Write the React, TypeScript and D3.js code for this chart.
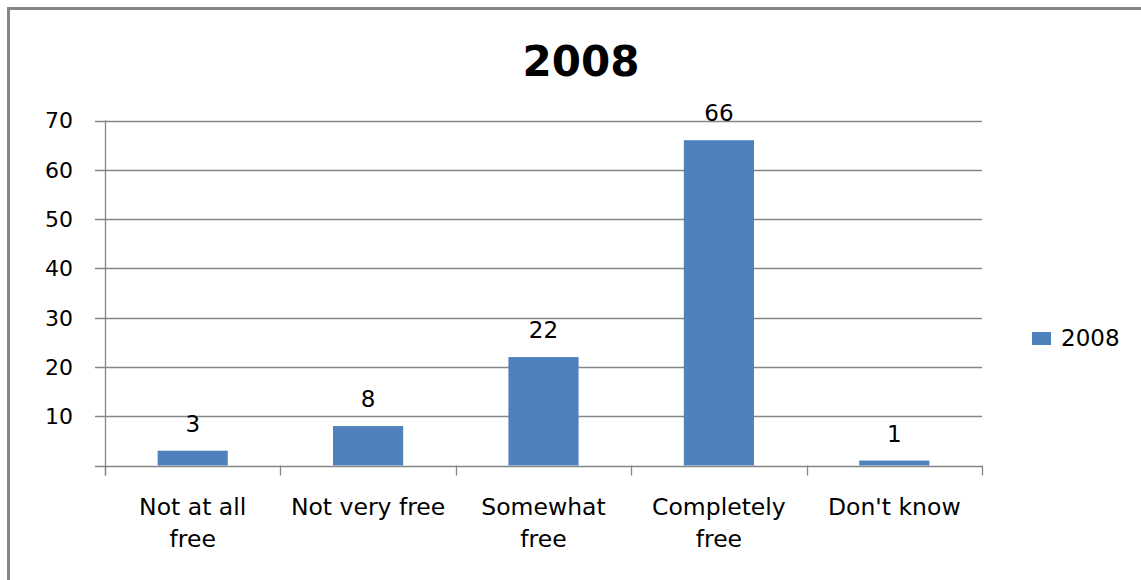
import React, { useRef, useEffect } from 'react';
import * as d3 from 'd3';

const categories = ['Not at all free', 'Not very free', 'Somewhat free', 'Completely free', "Don't know"];
const categoryLines = [['Not at all', 'free'], ['Not very free'], ['Somewhat', 'free'], ['Completely', 'free'], ["Don't know"]];
const values2008 = [3, 8, 22, 66, 1];
const yTicks = [10, 20, 30, 40, 50, 60, 70];
const seriesName = '2008';

export default function App() {
  const width = 1141;
  const height = 580;
  const ref = useRef<SVGSVGElement>(null);

  useEffect(() => {
    if (!ref.current) return;
    const svg = d3.select(ref.current);
    svg.selectAll('*').remove();

    const font = 'DejaVu Sans, sans-serif';
    const margin = { top: 120.5, left: 105, right: 159, bottom: 114.5 };

    const x = d3
      .scaleBand()
      .domain(categories)
      .range([margin.left, width - margin.right])
      .paddingInner(0.6)
      .paddingOuter(0.3);

    const y = d3
      .scaleLinear()
      .domain([0, 70])
      .range([height - margin.bottom, margin.top]);

    // frame
    svg
      .append('path')
      .attr('d', `M8.5,${height} V8.5 H${width}`)
      .attr('fill', 'none')
      .attr('stroke', '#868686')
      .attr('stroke-width', 3);

    // gridlines
    svg
      .append('g')
      .selectAll('line')
      .data([0, ...yTicks])
      .join('line')
      .attr('x1', margin.left - 10)
      .attr('x2', width - margin.right)
      .attr('y1', (d) => Math.round(y(d)) + 0.5)
      .attr('y2', (d) => Math.round(y(d)) + 0.5)
      .attr('stroke', '#868686')
      .attr('stroke-width', 1.3);

    // y axis line
    svg
      .append('line')
      .attr('x1', margin.left + 0.5)
      .attr('x2', margin.left + 0.5)
      .attr('y1', y(70))
      .attr('y2', y(0) + 10)
      .attr('stroke', '#868686')
      .attr('stroke-width', 1.3);

    // category ticks
    const step = x.step();
    const boundaries = d3.range(categories.length + 1).map((i) => margin.left + i * step);
    svg
      .append('g')
      .selectAll('line')
      .data(boundaries)
      .join('line')
      .attr('x1', (d) => Math.round(d) + 0.5)
      .attr('x2', (d) => Math.round(d) + 0.5)
      .attr('y1', y(0))
      .attr('y2', y(0) + 10)
      .attr('stroke', '#868686')
      .attr('stroke-width', 1.3);

    // y tick labels
    svg
      .append('g')
      .selectAll('text')
      .data(yTicks)
      .join('text')
      .attr('x', 73)
      .attr('y', (d) => y(d))
      .attr('dy', '0.36em')
      .attr('text-anchor', 'end')
      .attr('font-family', font)
      .attr('font-size', 22)
      .attr('fill', '#000')
      .text((d) => d);

    // bars
    svg
      .append('g')
      .selectAll('rect')
      .data(values2008)
      .join('rect')
      .attr('x', (d, i) => x(categories[i]) as number)
      .attr('width', x.bandwidth())
      .attr('y', (d) => y(d))
      .attr('height', (d) => y(0) - y(d))
      .attr('fill', '#4F81BD');

    // value labels
    svg
      .append('g')
      .selectAll('text')
      .data(values2008)
      .join('text')
      .attr('x', (d, i) => (x(categories[i]) as number) + x.bandwidth() / 2)
      .attr('y', (d) => y(d) - 19)
      .attr('text-anchor', 'middle')
      .attr('font-family', font)
      .attr('font-size', 23)
      .attr('fill', '#000')
      .text((d) => d);

    // category labels
    const labels = svg
      .append('g')
      .selectAll('text')
      .data(categoryLines)
      .join('text')
      .attr('x', (d, i) => (x(categories[i]) as number) + x.bandwidth() / 2)
      .attr('y', 515)
      .attr('text-anchor', 'middle')
      .attr('font-family', font)
      .attr('font-size', 23.5)
      .attr('fill', '#000');
    labels
      .selectAll('tspan')
      .data((d) => d)
      .join('tspan')
      .attr('x', function () {
        return (this.parentNode as SVGTextElement).getAttribute('x');
      })
      .attr('dy', (d, i) => (i === 0 ? 0 : 32))
      .text((d) => d);

    // title
    svg
      .append('text')
      .attr('x', 581)
      .attr('y', 76)
      .attr('text-anchor', 'middle')
      .attr('font-family', font)
      .attr('font-weight', 'bold')
      .attr('font-size', 42)
      .attr('fill', '#000')
      .text('2008');

    // legend
    svg
      .append('rect')
      .attr('x', 1032)
      .attr('y', 332)
      .attr('width', 19)
      .attr('height', 13)
      .attr('fill', '#4F81BD');
    svg
      .append('text')
      .attr('x', 1061)
      .attr('y', 338)
      .attr('dy', '0.36em')
      .attr('font-family', font)
      .attr('font-size', 23)
      .attr('fill', '#000')
      .text(seriesName);
  }, []);

  return (
    <div style={{ position: 'absolute', left: 0, top: 0 }}>
      <svg ref={ref} width={width} height={height} style={{ display: 'block', background: '#fff' }} />
    </div>
  );
}
